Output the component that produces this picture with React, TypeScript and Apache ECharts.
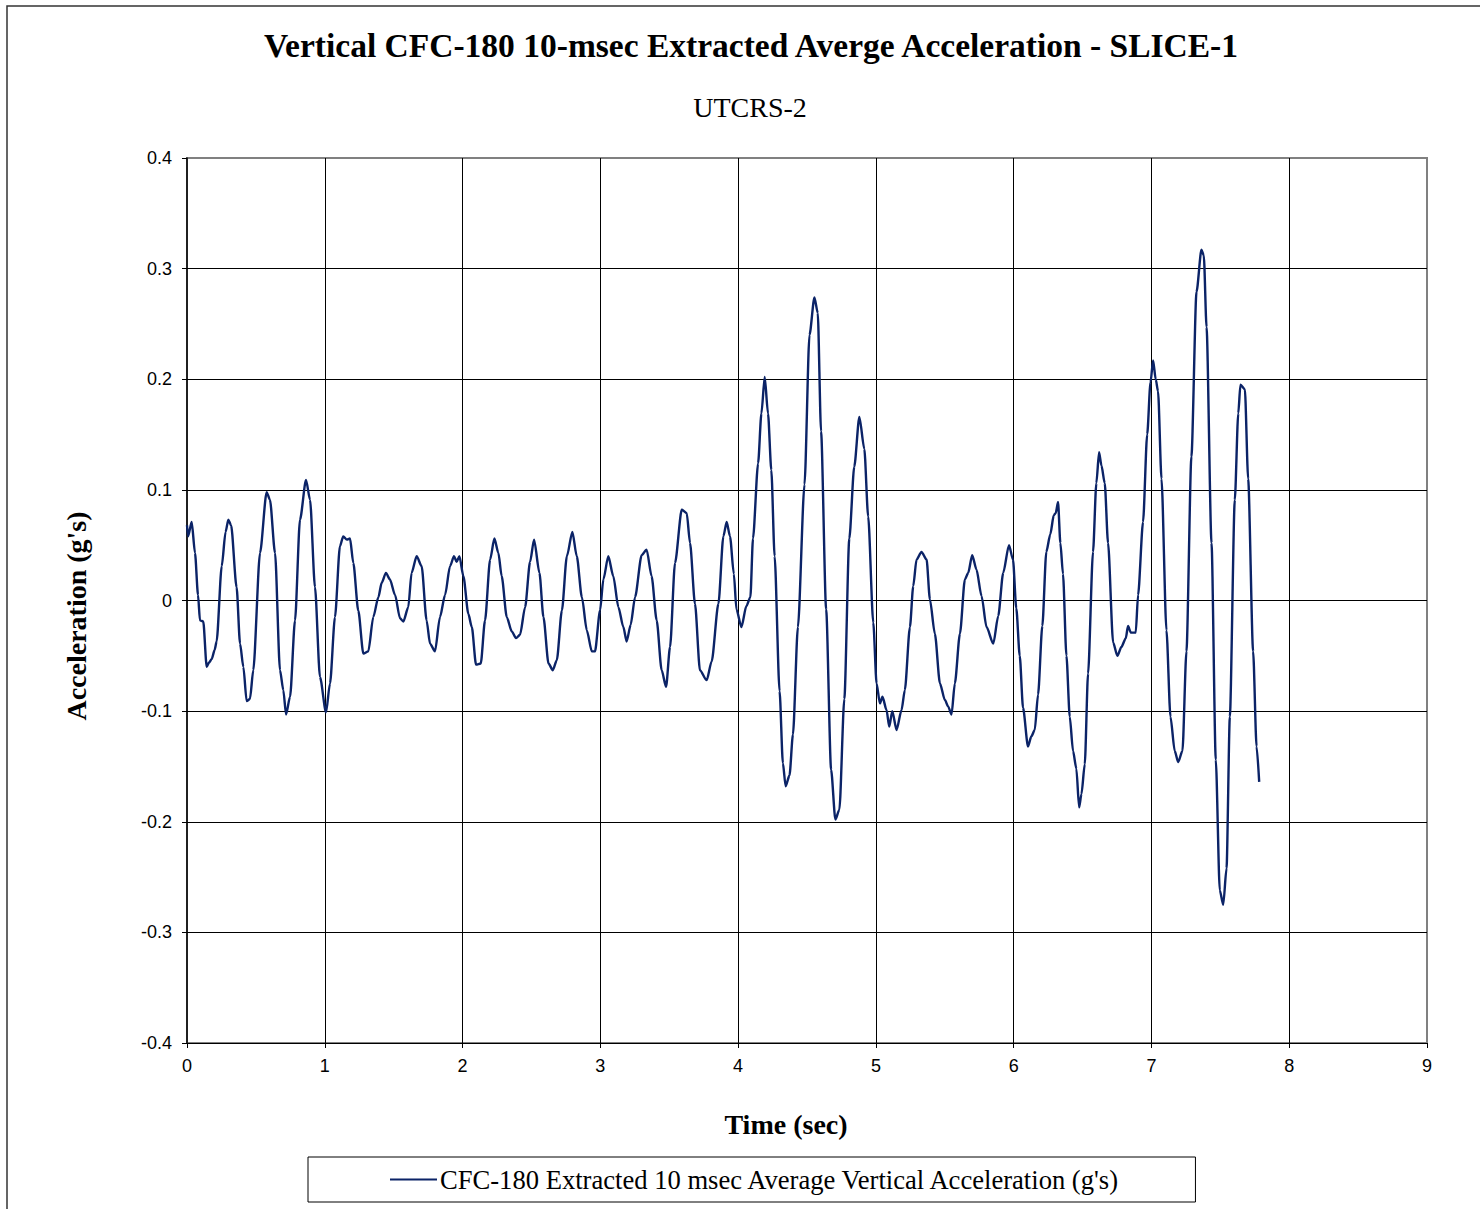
import React, { useEffect, useRef } from "react";
import * as echarts from "echarts";

const titleText = "Vertical CFC-180 10-msec Extracted Averge Acceleration - SLICE-1";
const subtitleText = "UTCRS-2";
const seriesName = "CFC-180 Extracted 10 msec Average Vertical Acceleration (g's)";
const xAxisName = "Time (sec)";
const yAxisName = "Acceleration (g's)";

const timeSec = [
  0, 0.008, 0.034, 0.058, 0.08, 0.094, 0.118, 0.143, 0.16, 0.179, 0.2, 0.215, 0.252, 0.28, 0.3, 0.32, 0.36, 0.385, 0.409, 0.433, 0.457, 0.481, 0.53, 0.578, 0.602, 0.639, 0.675, 0.699, 0.719, 0.748, 0.784, 0.82, 0.864, 0.893, 0.929, 0.965,
  1.009, 1.038, 1.074, 1.11, 1.134, 1.16, 1.183, 1.207, 1.243, 1.28, 1.316, 1.352, 1.389, 1.413, 1.444, 1.473, 1.51, 1.546, 1.57, 1.606, 1.63, 1.667, 1.703, 1.739, 1.764, 1.8, 1.836, 1.873, 1.909, 1.938, 1.957, 1.977,
  2.006, 2.042, 2.067, 2.098, 2.132, 2.163, 2.2, 2.231, 2.26, 2.284, 2.321, 2.357, 2.388, 2.417, 2.454, 2.49, 2.519, 2.558, 2.587, 2.624, 2.655, 2.684, 2.721, 2.757, 2.797, 2.829, 2.866, 2.902, 2.938, 2.961, 2.998,
  3.022, 3.058, 3.094, 3.131, 3.167, 3.191, 3.22, 3.252, 3.3, 3.336, 3.372, 3.409, 3.445, 3.477, 3.506, 3.542, 3.591, 3.627, 3.651, 3.687, 3.723, 3.772, 3.808, 3.857, 3.893, 3.917, 3.941, 3.969, 3.988,
  4.024, 4.06, 4.089, 4.108, 4.145, 4.169, 4.193, 4.217, 4.241, 4.265, 4.301, 4.325, 4.345, 4.373, 4.398, 4.434, 4.482, 4.518, 4.554, 4.578, 4.602, 4.639, 4.675, 4.706, 4.735, 4.771, 4.807, 4.843, 4.88, 4.916, 4.944, 4.981,
  5.005, 5.029, 5.048, 5.077, 5.097, 5.119, 5.15, 5.186, 5.21, 5.247, 5.271, 5.295, 5.331, 5.368, 5.392, 5.428, 5.465, 5.501, 5.525, 5.549, 5.573, 5.61, 5.646, 5.67, 5.699, 5.73, 5.767, 5.803, 5.852, 5.888, 5.924, 5.966, 5.995,
  6.019, 6.044, 6.068, 6.104, 6.128, 6.153, 6.177, 6.208, 6.237, 6.266, 6.291, 6.305, 6.322, 6.339, 6.358, 6.383, 6.407, 6.431, 6.455, 6.475, 6.492, 6.516, 6.54, 6.576, 6.6, 6.62, 6.637, 6.661, 6.685, 6.722, 6.753, 6.782, 6.814, 6.83, 6.85, 6.886, 6.903, 6.939, 6.969, 6.993,
  7.012, 7.031, 7.048, 7.073, 7.109, 7.138, 7.169, 7.194, 7.225, 7.254, 7.29, 7.327, 7.363, 7.38, 7.4, 7.436, 7.467, 7.496, 7.521, 7.545, 7.569, 7.605, 7.63, 7.646, 7.678, 7.702, 7.738, 7.763, 7.782,
];

const accelG = [
  0.068, 0.058, 0.071, 0.043, 0.005, -0.018, -0.019, -0.06, -0.056, -0.053, -0.045, -0.037, 0.031, 0.062, 0.073, 0.068, 0.012, -0.039, -0.06, -0.091, -0.089, -0.063, 0.043, 0.098, 0.091, 0.043, -0.063, -0.081, -0.103, -0.087, -0.018, 0.073, 0.109, 0.091, 0.012, -0.069,
  -0.101, -0.075, -0.015, 0.049, 0.058, 0.055, 0.056, 0.034, -0.009, -0.048, -0.046, -0.015, 0.003, 0.016, 0.025, 0.019, 0.005, -0.016, -0.019, -0.006, 0.025, 0.04, 0.031, -0.018, -0.039, -0.046, -0.015, 0.005, 0.031, 0.04, 0.035, 0.04,
  0.022, -0.012, -0.024, -0.058, -0.057, -0.018, 0.037, 0.056, 0.043, 0.022, -0.015, -0.028, -0.034, -0.031, -0.006, 0.035, 0.055, 0.025, -0.015, -0.057, -0.063, -0.054, -0.009, 0.04, 0.062, 0.04, 0.003, -0.027, -0.046, -0.046, -0.009,
  0.019, 0.04, 0.022, -0.006, -0.024, -0.037, -0.022, 0.003, 0.041, 0.046, 0.022, -0.018, -0.063, -0.078, -0.042, 0.034, 0.082, 0.079, 0.052, -0.003, -0.063, -0.072, -0.055, -0.003, 0.058, 0.071, 0.058, 0.024, -0.008,
  -0.024, -0.005, 0.003, 0.056, 0.124, 0.169, 0.202, 0.169, 0.118, 0.04, -0.082, -0.147, -0.168, -0.158, -0.121, -0.024, 0.105, 0.24, 0.274, 0.26, 0.153, -0.008, -0.153, -0.198, -0.189, -0.089, 0.056, 0.121, 0.166, 0.137, 0.076, -0.02,
  -0.075, -0.093, -0.087, -0.099, -0.114, -0.1, -0.117, -0.099, -0.081, -0.024, 0.013, 0.037, 0.044, 0.037, 0.001, -0.03, -0.075, -0.09, -0.096, -0.103, -0.075, -0.03, 0.019, 0.025, 0.041, 0.028, 0.004, -0.024, -0.039, -0.014, 0.025, 0.05, 0.037,
  -0.007, -0.05, -0.097, -0.132, -0.123, -0.117, -0.085, -0.023, 0.044, 0.06, 0.077, 0.079, 0.089, 0.052, 0.024, -0.05, -0.105, -0.136, -0.152, -0.187, -0.175, -0.148, -0.066, 0.044, 0.106, 0.134, 0.122, 0.106, 0.052, -0.038, -0.05, -0.042, -0.034, -0.023, -0.029, -0.029, 0.005, 0.071, 0.15, 0.197,
  0.217, 0.2, 0.189, 0.11, -0.027, -0.105, -0.136, -0.146, -0.136, -0.046, 0.13, 0.279, 0.317, 0.312, 0.247, 0.052, -0.144, -0.262, -0.275, -0.242, -0.105, 0.091, 0.169, 0.195, 0.191, 0.11, -0.046, -0.132, -0.164,
];

const xTicks = { min: 0, max: 9, interval: 1 };
const yTicks = { min: -0.4, max: 0.4, interval: 0.1 };

export default function App() {
  const ref = useRef<HTMLDivElement>(null);

  useEffect(() => {
    if (!ref.current) return;
    const chart = echarts.init(ref.current, undefined, { renderer: "svg" });
    const data = timeSec.map((t, i) => [t, accelG[i]]);
    const serif = "'Liberation Serif', 'Times New Roman', serif";
    const sans = "'Liberation Sans', Arial, sans-serif";
    const lineColor = "#0b2367";

    chart.setOption({
      animation: false,
      backgroundColor: "#ffffff",
      title: [
        {
          text: titleText,
          left: 746,
          textAlign: "center",
          top: 23,
          textStyle: { fontFamily: serif, fontSize: 33.5, fontWeight: "bold", color: "#000" },
        },
        {
          text: subtitleText,
          left: 745,
          textAlign: "center",
          top: 88,
          textStyle: { fontFamily: serif, fontSize: 28, fontWeight: "normal", color: "#000" },
        },
      ],
      grid: {
        left: 187,
        top: 158,
        right: 53,
        bottom: 166,
        show: true,
        borderColor: "#808080",
        borderWidth: 2,
        backgroundColor: "transparent",
      },
      legend: {
        show: true,
        left: 308,
        top: 1157,
        data: [seriesName],
        icon: "rect",
        itemWidth: 47,
        itemHeight: 2,
        itemGap: 0,
        padding: [9, 74, 9, 82],
        borderColor: "#000",
        borderWidth: 1,
        borderRadius: 0,
        textStyle: { fontFamily: serif, fontSize: 26.6, color: "#000", lineHeight: 26, padding: [-1, 0, 0, -2] },
      },
      xAxis: [
        {
          type: "value",
          min: xTicks.min,
          max: xTicks.max,
          interval: xTicks.interval,
          position: "bottom",
          axisLine: { show: false },
          axisTick: { show: false },
          axisLabel: { fontFamily: sans, fontSize: 18, color: "#000", margin: 14 },
          splitLine: { show: true, showMinLine: false, showMaxLine: false, lineStyle: { color: "#000", width: 1 } },
        },
        {
          type: "value",
          min: xTicks.min,
          max: xTicks.max,
          interval: xTicks.interval,
          position: "bottom",
          axisLine: { show: true, onZero: true, lineStyle: { color: "#000", width: 1 } },
          axisTick: { show: true, length: 5, inside: false, lineStyle: { color: "#000" } },
          axisLabel: { show: false },
          splitLine: { show: false },
        },
      ],
      yAxis: {
        type: "value",
        min: yTicks.min,
        max: yTicks.max,
        interval: yTicks.interval,
        axisLine: { show: true, onZero: false, lineStyle: { color: "#000", width: 1.5 } },
        axisTick: { show: true, length: 5, inside: false, lineStyle: { color: "#000" } },
        axisLabel: {
          fontFamily: sans,
          fontSize: 18,
          color: "#000",
          margin: 15,
          formatter: (v: number) => {
            const r = Math.round(v * 10) / 10;
            return r === 0 ? "0" : String(r);
          },
        },
        splitLine: { show: true, showMinLine: false, showMaxLine: false, lineStyle: { color: "#000", width: 1 } },
      },
      graphic: [
        {
          type: "rect",
          shape: { x: 7, y: 6, width: 1500, height: 1230 },
          style: { fill: "none", stroke: "#333", lineWidth: 1.5 },
          silent: true,
          z: -1,
        },
        {
          type: "text",
          x: 786,
          y: 1124,
          style: {
            text: xAxisName,
            fontFamily: serif,
            fontSize: 28,
            fontWeight: "bold",
            fill: "#000",
            textAlign: "center",
            textVerticalAlign: "middle",
          },
          silent: true,
        },
        {
          type: "text",
          x: 76,
          y: 616,
          rotation: Math.PI / 2,
          style: {
            text: yAxisName,
            fontFamily: serif,
            fontSize: 28,
            fontWeight: "bold",
            fill: "#000",
            textAlign: "center",
            textVerticalAlign: "middle",
          },
          silent: true,
        },
      ],
      series: [
        {
          name: seriesName,
          type: "line",
          xAxisIndex: 0,
          data,
          showSymbol: false,
          symbol: "none",
          smooth: 0.25,
          smoothMonotone: "x",
          lineStyle: { color: lineColor, width: 2.4 },
          itemStyle: { color: lineColor },
          z: 5,
        },
      ],
    });

    return () => chart.dispose();
  }, []);

  return (
    <div
      ref={ref}
      style={{ position: "absolute", left: 0, top: 0, width: 1480, height: 1209 }}
    />
  );
}
